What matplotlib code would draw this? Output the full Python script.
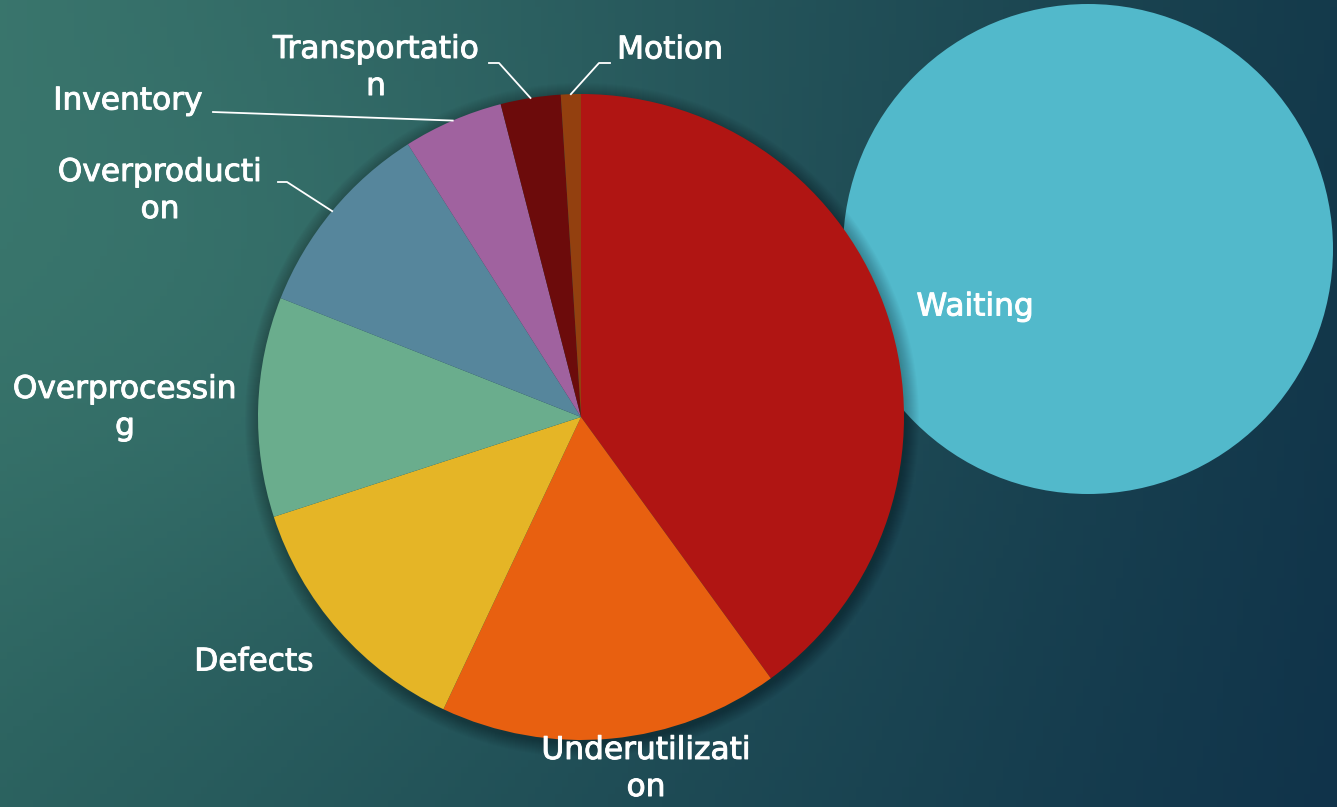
import numpy as np
import matplotlib.pyplot as plt
import matplotlib.patheffects as pe
from matplotlib.patches import Circle
from matplotlib.colors import to_rgb

# data
categories = ['Waste A', 'Underutilization', 'Defects', 'Overprocessing',
              'Overproduction', 'Inventory', 'Transportation', 'Motion']
values = [40, 17, 13, 11, 10, 5, 3, 1]
colors = ['#b01513', '#e86010', '#e5b526', '#6aad8d',
          '#56869c', '#a0629f', '#6c0b0b', '#93400f']
# label text as shown (wrapped like the original)
label_text = ['', 'Underutilizati\non', 'Defects', 'Overprocessin\ng',
              'Overproducti\non', 'Inventory', 'Transportatio\nn', 'Motion']
waiting_label = 'Waiting'
waiting_color = '#52b9cb'

W, H = 1337, 807
fig = plt.figure(figsize=(W / 100, H / 100), dpi=100)
ax = fig.add_axes([0, 0, 1, 1])
ax.set_xlim(0, W)
ax.set_ylim(0, H)
ax.set_aspect('equal')
ax.axis('off')

#background gradient
tl, tr = np.array(to_rgb('#37716a')), np.array(to_rgb('#143a4b'))
bl, br = np.array(to_rgb('#2b615f')), np.array(to_rgb('#10334a'))
gx = np.linspace(0, 1, 200)[None, :, None]
gy = np.linspace(0, 1, 120)[:, None, None]
top = tl * (1 - gx) + tr * gx
bot = bl * (1 - gx) + br * gx
img = top * (1 - gy) + bot * gy
# soft highlight on the left-middle
yy, xx = np.mgrid[0:120, 0:200]
glow = np.exp(-(((xx - 40) / 70.0) ** 2 + ((yy - 45) / 50.0) ** 2))
img = np.clip(img + glow[:, :, None] * np.array([0.03, 0.05, 0.03]), 0, 1)
ax.imshow(img, extent=[0, W, 0, H], origin='upper', aspect='auto', zorder=0)

txt_style = dict(color='white', fontsize=22.5, ha='center', va='center', zorder=6,
                 path_effects=[pe.withStroke(linewidth=0.7, foreground='white')])

# the big "waiting" bubble sits behind the pie
ax.add_patch(Circle((1088, H - 249), 245, color=waiting_color, lw=0, zorder=1))
ax.text(975, H - 307, waiting_label, **txt_style)

cx, cy, r = 581, H - 417, 323

# soft shadow under the pie
for k in range(14):
    ax.add_patch(Circle((cx + 1, cy - 3), r + 14 - k, color='black',
                        alpha=0.018, lw=0, zorder=2))

wedges, _ = ax.pie(values, colors=colors, startangle=90, counterclock=False,
                   center=(cx, cy), radius=r, frame=True,
                   wedgeprops=dict(linewidth=0))
for w in wedges:
    w.set_zorder(3)
ax.set_xlim(0, W)
ax.set_ylim(0, H)
ax.axis('off')

# label placement (pixel coords from top) and leader-line elbows
label_pos = [None, (646, 769), (254, 662), (125, 408), (160, 191),
             (128, 101), (376, 68), (670, 50)]
elbows = {4: [(287, 182), (278, 182)],
          5: [(213, 112)],
          6: [(499, 63), (489, 63)],
          7: [(599, 63), (610, 63)]}

for i, w in enumerate(wedges):
    if label_pos[i] is None:
        continue
    lx, ly = label_pos[i]
    ax.text(lx, H - ly, label_text[i], linespacing=1.35, **txt_style)
    if i in elbows:
        mid = np.deg2rad((w.theta1 + w.theta2) / 2)
        px = [cx + r * np.cos(mid)] + [p[0] for p in elbows[i]]
        py = [cy + r * np.sin(mid)] + [H - p[1] for p in elbows[i]]
        ax.plot(px, py, color='white', lw=1.3, zorder=5)

plt.savefig('out.png', dpi=100)
